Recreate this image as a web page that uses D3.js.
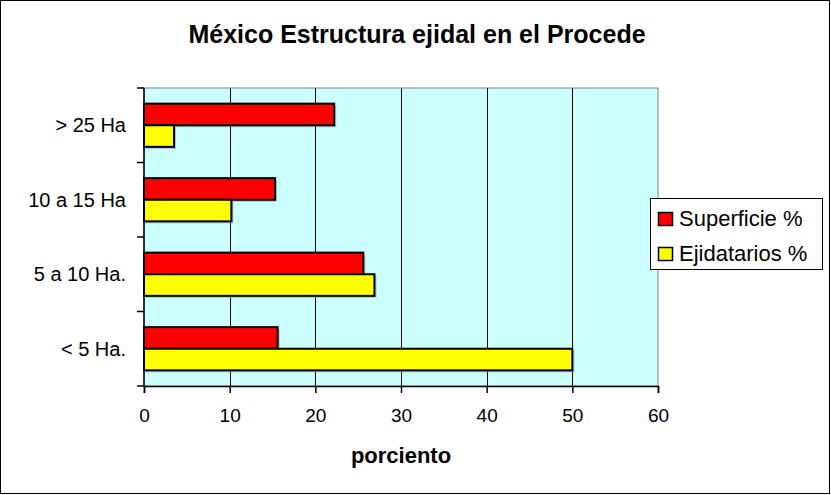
<!DOCTYPE html>
<html>
<head>
<meta charset="utf-8">
<script src="https://cdn.jsdelivr.net/npm/d3@7"></script>
<style>
  html, body { margin: 0; padding: 0; background: #fff; }
  svg { display: block; font-family: "Liberation Sans", Arial, sans-serif; }
</style>
</head>
<body>
<svg id="chart" width="831" height="495"></svg>
<script>
// data (top to bottom as drawn)
const categories = ["> 25 Ha", "10 a 15 Ha", "5 a 10 Ha.", "< 5 Ha."];
const superficie = [22.2, 15.3, 25.6, 15.6];
const ejidatarios = [3.5, 10.2, 26.9, 50.0];
const seriesNames = ["Superficie %", "Ejidatarios %"];
const seriesColors = ["#ff0000", "#ffff00"];
const xTicks = [0, 10, 20, 30, 40, 50, 60];

const svg = d3.select("#chart");
const W = 831, H = 495;
const plot = { left: 144, top: 88, right: 658, bottom: 386 };

// outer frame
svg.append("rect")
  .attr("x", 0.5).attr("y", 0.5)
  .attr("width", W - 2).attr("height", H - 2)
  .attr("fill", "#fff").attr("stroke", "#000");

const x = d3.scaleLinear().domain([0, 60]).range([plot.left, plot.right]);
const y = d3.scaleBand().domain(categories).range([plot.top, plot.bottom]).paddingInner(0.42).paddingOuter(0.21);
const ySub = d3.scaleBand().domain(seriesNames).range([0, y.bandwidth()]);

// plot background
svg.append("rect")
  .attr("x", plot.left).attr("y", plot.top)
  .attr("width", plot.right - plot.left).attr("height", plot.bottom - plot.top)
  .attr("fill", "#ccffff").attr("stroke", "#808080");

// gridlines
svg.append("g")
  .selectAll("line")
  .data(xTicks.slice(1, -1))
  .join("line")
  .attr("x1", d => Math.round(x(d)) + 0.5).attr("x2", d => Math.round(x(d)) + 0.5)
  .attr("y1", plot.top).attr("y2", plot.bottom)
  .attr("stroke", "#000").attr("stroke-width", 1);

// bars
const rows = categories.map((c, i) => ({ cat: c, values: [superficie[i], ejidatarios[i]] }));
const g = svg.append("g");
rows.forEach(r => {
  r.values.forEach((v, j) => {
    const by = y(r.cat) + ySub(seriesNames[j]);
    // soft shadow
    g.append("rect")
      .attr("x", x(0) + 2).attr("y", by + 2)
      .attr("width", x(v) - x(0)).attr("height", ySub.bandwidth())
      .attr("fill", "#999").attr("opacity", 0.6);
    g.append("rect")
      .attr("x", x(0)).attr("y", by)
      .attr("width", x(v) - x(0)).attr("height", ySub.bandwidth())
      .attr("fill", seriesColors[j]).attr("stroke", "#000").attr("stroke-width", 2);
  });
});

// y axis
const yAxis = svg.append("g")
  .attr("transform", `translate(${plot.left},0)`);
yAxis.append("line")
  .attr("x1", 0).attr("x2", 0).attr("y1", plot.top).attr("y2", plot.bottom)
  .attr("stroke", "#000").attr("stroke-width", 1.5);
const yEdges = categories.map(c => y(c) - y.step() * y.paddingInner() / 2).concat([plot.bottom]);
yEdges[0] = plot.top;
yAxis.selectAll("line.tk")
  .data(yEdges)
  .join("line").attr("class", "tk")
  .attr("x1", -7).attr("x2", 0)
  .attr("y1", d => d).attr("y2", d => d)
  .attr("stroke", "#000").attr("stroke-width", 1.5);
yAxis.selectAll("text")
  .data(categories)
  .join("text")
  .attr("x", -18)
  .attr("y", d => y(d) + y.bandwidth() / 2)
  .attr("dy", "0.35em")
  .attr("text-anchor", "end")
  .attr("font-size", 20)
  .text(d => d);

// x axis
const xAxis = svg.append("g")
  .attr("transform", `translate(0,${plot.bottom})`)
  .call(d3.axisBottom(x).tickValues(xTicks).tickSize(7).tickPadding(16).tickFormat(d3.format("d")));
xAxis.select(".domain").attr("stroke", "#000").attr("stroke-width", 1.5);
xAxis.selectAll(".tick line").attr("stroke", "#000").attr("stroke-width", 1.5);
xAxis.selectAll(".tick text")
  .attr("font-size", 19).attr("font-family", "Liberation Sans, Arial, sans-serif").attr("fill", "#000");

// titles
svg.append("text")
  .attr("x", 417).attr("y", 43)
  .attr("text-anchor", "middle")
  .attr("font-size", 25).attr("font-weight", "bold")
  .text("México Estructura ejidal en el Procede");

svg.append("text")
  .attr("x", (plot.left + plot.right) / 2).attr("y", 463)
  .attr("text-anchor", "middle")
  .attr("font-size", 22).attr("font-weight", "bold")
  .text("porciento");

// legend
const legend = svg.append("g").attr("transform", "translate(650,198)");
legend.append("rect")
  .attr("x", 0.5).attr("y", 0.5).attr("width", 172).attr("height", 71)
  .attr("fill", "#fff").attr("stroke", "#000");
seriesNames.forEach((s, i) => {
  const ly = 14 + i * 35;
  legend.append("rect")
    .attr("x", 8.5).attr("y", ly + 0.5).attr("width", 14).attr("height", 13)
    .attr("fill", seriesColors[i]).attr("stroke", "#000").attr("stroke-width", 1.5);
  legend.append("text")
    .attr("x", 29).attr("y", ly + 14)
    .attr("font-size", 22)
    .text(s);
});
</script>
</body>
</html>
